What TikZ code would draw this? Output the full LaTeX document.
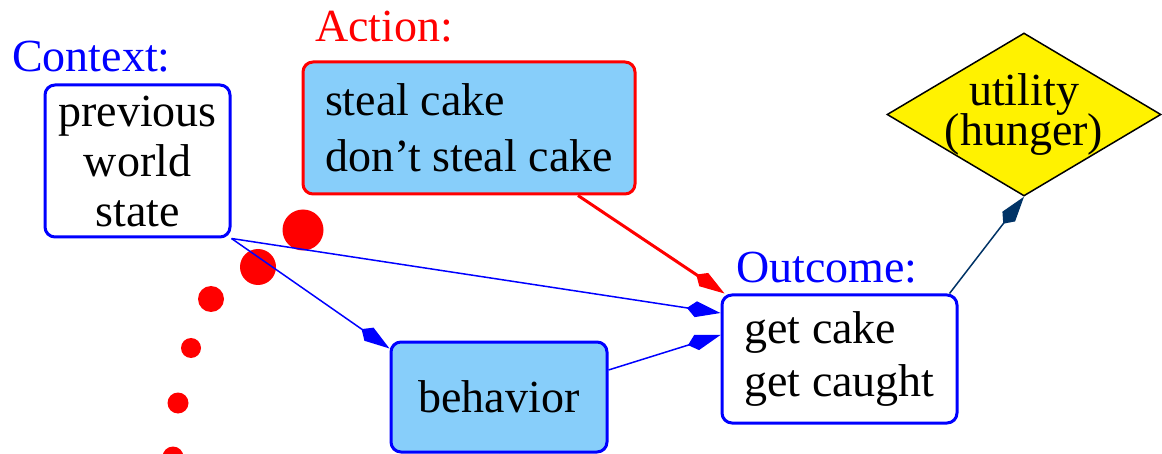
\documentclass[tikz,border=0pt]{standalone}
\usepackage{fontspec}
\setmainfont{Liberation Serif}
\usetikzlibrary{shapes.geometric,arrows.meta}
\definecolor{skyfill}{HTML}{87CEFA}
\definecolor{navy}{HTML}{003366}
\newcommand\utilfont{\fontsize{46}{40}\selectfont\lineskiplimit-100pt\relax}
\begin{document}
\begin{tikzpicture}[x=1pt,y=-1pt,
  box/.style={draw, rounded corners=10pt, line width=3pt, inner sep=0pt, align=center, font=\fontsize{46}{50}\selectfont},
  lbl/.style={anchor=base west, inner sep=0pt, font=\fontsize{46}{50}\selectfont},
  tip/.style={-{Kite[length=34pt,width=16pt,inset=9pt]}},
  link/.style={line width=1.5pt, tip},
  dot/.style={fill=red}]
\clip (0,0) rectangle (1162,454);
\fill[white] (0,0) rectangle (1162,454);
% red dots
\fill[dot] (303,230) circle (20.5pt);
\fill[dot] (258,267) circle (18pt);
\fill[dot] (211,299) circle (13pt);
\fill[dot] (191,348) circle (10pt);
\fill[dot] (178,403) circle (10.5pt);
\fill[dot] (173,457) circle (10.5pt);
% nodes
\node[box, draw=blue, fill=white, minimum width=185pt, minimum height=152pt] (ctx) at (137.5,161) {previous\\world\\state};
\node[box, draw=red, fill=skyfill, minimum width=332pt, minimum height=132pt, align=left, font=\fontsize{46}{56}\selectfont] (act) at (469,128) {steal cake\\don't steal cake};
\node[box, draw=blue, fill=skyfill, minimum width=216pt, minimum height=110pt] (beh) at (499,397) {behavior};
\node[box, draw=blue, fill=white, minimum width=235pt, minimum height=128pt, align=left, font=\fontsize{46}{53}\selectfont] (out) at (839.5,359) {get cake\\get caught};
\node[diamond, draw=black, line width=1.5pt, fill=yellow, shape aspect=1.67, minimum width=274pt, minimum height=163pt, inner sep=-8pt, align=center, font=\utilfont] (util) at (1024,114.5) {utility\\(hunger)};
% labels
\node[lbl, text=blue] (ctxl) at (12,72) {Context:};
\node[lbl, text=red] (actl) at (315,42) {Action:};
\node[lbl, text=blue] (outl) at (736,283) {Outcome:};
% edges
\coordinate (stub) at (499,480);
\draw[link, blue] (ctx.south east) -- ([yshift=46pt]out.west);
\draw[link, blue] (ctx.south east) -- ([yshift=-8pt]beh.north west);
\draw[link, blue] ([yshift=27pt]beh.east) -- ([yshift=24pt]out.west);
\draw[red, line width=3pt, tip] ([xshift=109pt]act.south) -- ([xshift=4pt]out.north west);
\draw[link, navy] ([xshift=-9pt]out.north east) -- (util.south);
\draw[blue, line width=1.5pt] (beh.south) -- (stub);
\end{tikzpicture}
\end{document}
